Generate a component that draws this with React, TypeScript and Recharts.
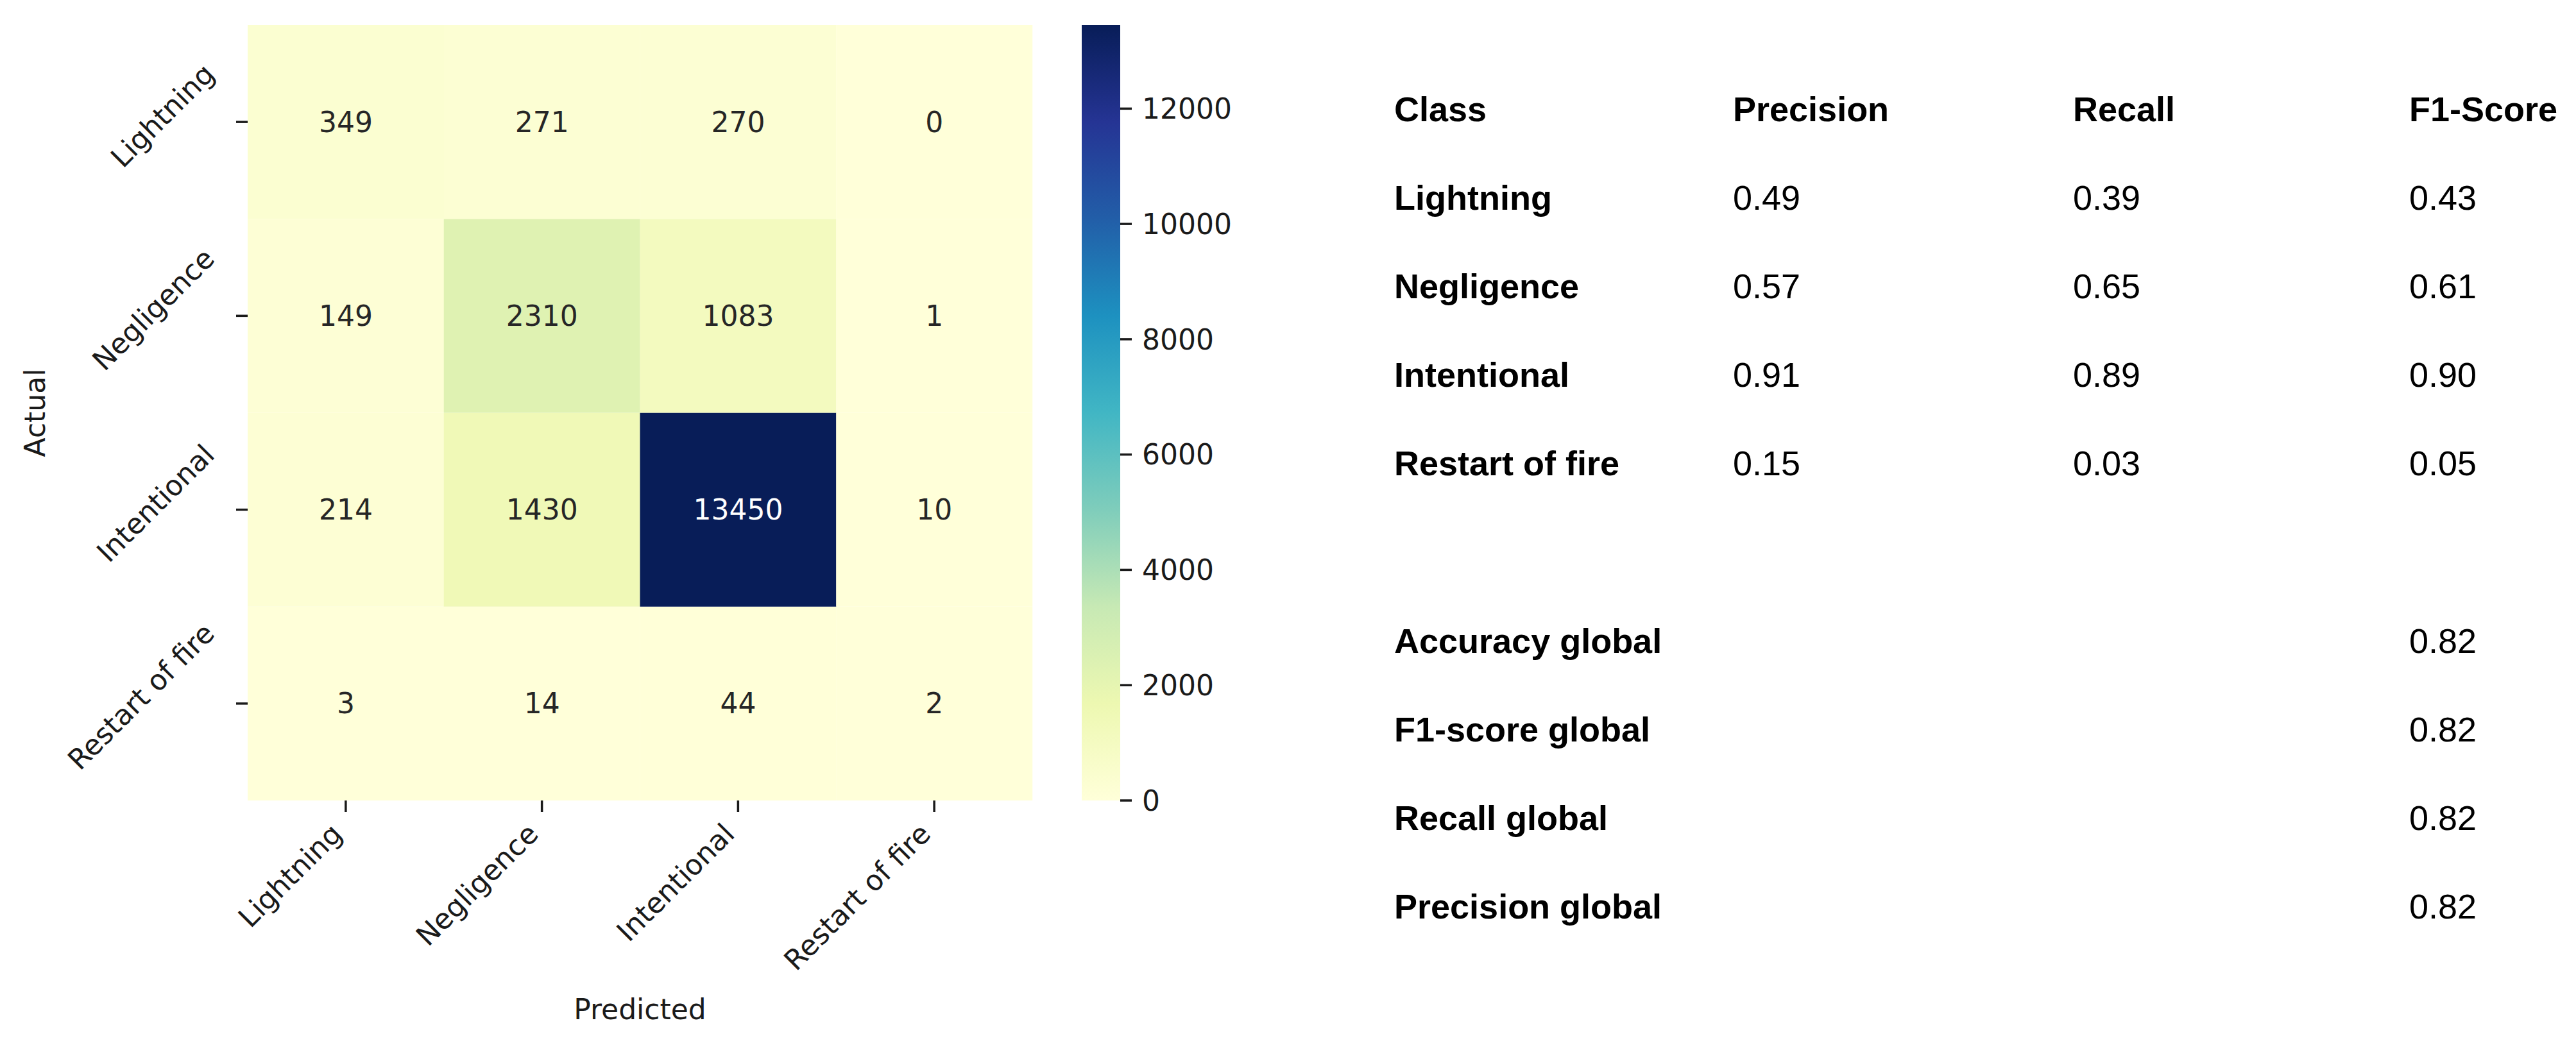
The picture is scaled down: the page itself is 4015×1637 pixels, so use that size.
import { BarChart, Bar, XAxis, YAxis, Cell, LabelList } from "recharts";

// confusion matrix, one array per actual class (columns = predicted)
const classes = ["Lightning", "Negligence", "Intentional", "Restart of fire"];
const lightningRow = [349, 271, 270, 0];
const negligenceRow = [149, 2310, 1083, 1];
const intentionalRow = [214, 1430, 13450, 10];
const restartRow = [3, 14, 44, 2];
const matrix = [lightningRow, negligenceRow, intentionalRow, restartRow];

const colorbarTicks = [0, 2000, 4000, 6000, 8000, 10000, 12000];

// metrics table
const precision = ["0.49", "0.57", "0.91", "0.15"];
const recall = ["0.39", "0.65", "0.89", "0.03"];
const f1 = ["0.43", "0.61", "0.90", "0.05"];
const globalLabels = ["Accuracy global", "F1-score global", "Recall global", "Precision global"];
const globalValues = ["0.82", "0.82", "0.82", "0.82"];

const YLGNBU = ["#ffffd9", "#edf8b1", "#c7e9b4", "#7fcdbb", "#41b6c4", "#1d91c0", "#225ea8", "#253494", "#081d58"];
const maxCount = Math.max(...matrix.flat());

const hex = (h: string) => [1, 3, 5].map((i) => parseInt(h.slice(i, i + 2), 16));

function cmap(v: number) {
  const t = Math.min(1, Math.max(0, v / maxCount)) * (YLGNBU.length - 1);
  const i = Math.min(YLGNBU.length - 2, Math.floor(t));
  const f = t - i;
  const a = hex(YLGNBU[i]);
  const b = hex(YLGNBU[i + 1]);
  const c = a.map((x, k) => Math.round(x + (b[k] - x) * f));
  return `rgb(${c[0]},${c[1]},${c[2]})`;
}

const heatData = classes.map((p, c) => {
  const row: any = { predicted: p };
  matrix.forEach((r, i) => {
    row[`unit${i}`] = 1;
    row[`count${i}`] = r[c];
  });
  return row;
});

const FONT = "DejaVu Sans";
const FS = 44;
const TXT = "#1a1a1a";

// rough DejaVu Sans advance widths, used to centre rotated labels
const CW: Record<string, number> = {
  L: 0.557, i: 0.278, g: 0.635, h: 0.634, t: 0.392, n: 0.634, N: 0.748, e: 0.615, l: 0.278,
  c: 0.55, I: 0.295, o: 0.612, a: 0.613, R: 0.695, s: 0.521, r: 0.411, f: 0.352, " ": 0.318,
};
const textLen = (s: string) => s.split("").reduce((acc, ch) => acc + (CW[ch] ?? 0.6), 0) * FS;

const XTick = (props: any) => {
  const { x, y, payload } = props;
  const ax = x - 14;
  const ay = y + 26;
  return (
    <text x={ax} y={ay} textAnchor="end" dominantBaseline="central" fontSize={FS} fontFamily={FONT} fill={TXT}
      transform={`rotate(-45 ${ax} ${ay})`}>
      {payload.value}
    </text>
  );
};

const YTick = (props: any) => {
  const { x, y, payload } = props;
  const label = classes[3 - Math.floor(payload.value)];
  const ax = x - 42;
  const ay = y - textLen(label) * 0.354 - 10;
  return (
    <text x={ax} y={ay} textAnchor="end" dominantBaseline="central" fontSize={FS} fontFamily={FONT} fill={TXT}
      transform={`rotate(-45 ${ax} ${ay})`}>
      {label}
    </text>
  );
};

const renderCount = (props: any) => {
  const vb = props.viewBox ?? props;
  const { x, y, width, height } = vb;
  const value = props.value;
  return (
    <text x={x + width / 2} y={y + height / 2} textAnchor="middle" dominantBaseline="central"
      fontSize={FS} fontFamily={FONT} fill={value > maxCount / 2 ? "#ffffff" : "#262626"}>
      {value}
    </text>
  );
};

export default function App() {
  const order = [3, 2, 1, 0]; // bottom row first in the stack
  return (
    <div style={{ position: "absolute", left: 0, top: 0, width: 4015, height: 1637, background: "#fff" }}>
      <div style={{ position: "absolute", left: 0, top: 0 }}>
        <BarChart width={1660} height={1637} data={heatData} barCategoryGap={0} barGap={0}
          margin={{ top: 39, right: 51, bottom: 89, left: 326 }}>
          <XAxis dataKey="predicted" type="category" interval={0} height={300} axisLine={false}
            tickSize={18} tickMargin={0} tickLine={{ stroke: TXT, strokeWidth: 3.5 }} tick={<XTick />}
            label={{
              content: (p: any) => {
                const vb = p.viewBox;
                return (
                  <text x={vb.x + vb.width / 2} y={1589} textAnchor="middle" fontSize={FS} fontFamily={FONT} fill={TXT}>
                    Predicted
                  </text>
                );
              },
            }} />
          <YAxis type="number" domain={[0, 4]} ticks={[0.5, 1.5, 2.5, 3.5]} width={60} axisLine={false}
            tickSize={18} tickMargin={0} tickLine={{ stroke: TXT, strokeWidth: 3.5 }} tick={<YTick />}
            label={{
              content: (p: any) => {
                const vb = p.viewBox;
                const cy = vb.y + vb.height / 2;
                return (
                  <text x={70} y={cy} textAnchor="middle" fontSize={FS} fontFamily={FONT} fill={TXT}
                    transform={`rotate(-90 70 ${cy})`}>
                    Actual
                  </text>
                );
              },
            }} />
          {order.map((r) => (
            <Bar key={r} dataKey={`unit${r}`} stackId="m" isAnimationActive={false}>
              {heatData.map((d, c) => (
                <Cell key={c} fill={cmap(d[`count${r}`])} />
              ))}
              <LabelList dataKey={`count${r}`} content={renderCount} />
            </Bar>
          ))}
        </BarChart>
      </div>

      <div style={{ position: "absolute", left: 1620, top: 0 }}>
        <BarChart width={400} height={1637} data={[{ name: "scale", value: maxCount }]} barCategoryGap={0}
          margin={{ top: 39, right: 74, bottom: 389, left: 66 }}>
          <defs>
            <linearGradient id="ylgnbu" x1="0" y1="1" x2="0" y2="0">
              {YLGNBU.map((c, i) => (
                <stop key={i} offset={i / (YLGNBU.length - 1)} stopColor={c} />
              ))}
            </linearGradient>
          </defs>
          <XAxis dataKey="name" hide />
          <YAxis orientation="right" type="number" domain={[0, maxCount]} ticks={colorbarTicks} width={200}
            axisLine={false} tickSize={18} tickMargin={16} tickLine={{ stroke: TXT, strokeWidth: 3.5 }}
            tick={{ fontSize: FS, fontFamily: FONT, fill: TXT }} />
          <Bar dataKey="value" fill="url(#ylgnbu)" isAnimationActive={false} />
        </BarChart>
      </div>

      <svg style={{ position: "absolute", left: 2100, top: 0 }} width={1915} height={1637}
        fontFamily="Liberation Sans, Arial, sans-serif" fontSize={54} fill="#000">
        <text x={73} y={189} fontWeight="bold">Class</text>
        <text x={601} y={189} fontWeight="bold">Precision</text>
        <text x={1131} y={189} fontWeight="bold">Recall</text>
        <text x={1655} y={189} fontWeight="bold">F1-Score</text>
        {classes.map((c, i) => {
          const y = 327 + i * 138;
          return (
            <g key={c}>
              <text x={73} y={y} fontWeight="bold">{c}</text>
              <text x={601} y={y}>{precision[i]}</text>
              <text x={1131} y={y}>{recall[i]}</text>
              <text x={1655} y={y}>{f1[i]}</text>
            </g>
          );
        })}
        {globalLabels.map((g, i) => {
          const y = 1018 + i * 138;
          return (
            <g key={g}>
              <text x={73} y={y} fontWeight="bold">{g}</text>
              <text x={1655} y={y}>{globalValues[i]}</text>
            </g>
          );
        })}
      </svg>
    </div>
  );
}
